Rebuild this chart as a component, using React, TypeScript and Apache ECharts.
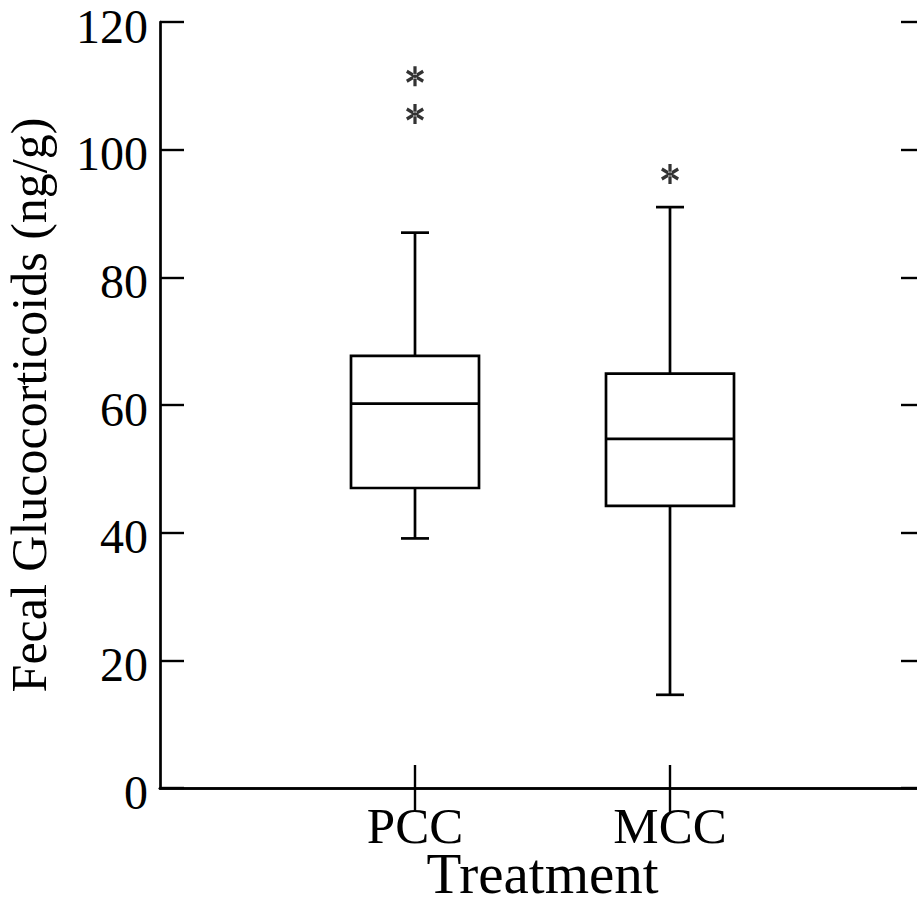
import React, { useEffect, useRef } from "react";
import * as echarts from "echarts";

const categories = ["", "PCC", "MCC", ""];
const boxIndex = [1, 2];
const boxMin = [39.1, 14.6];
const boxQ1 = [47.0, 44.2];
const boxMedian = [60.2, 54.7];
const boxQ3 = [67.7, 64.9];
const boxMax = [87.0, 91.0];
const outlierIndex = [1, 1, 2];
const outlierValues = [111.5, 105.6, 96.2];
const yMin = 0;
const yMax = 120;
const yInterval = 20;

const FONT = '"Liberation Serif", "Times New Roman", serif';

const asterisk =
  "path://M8.3 0 L11.7 0 L11.7 20 L8.3 20 Z M0.49 6.47 L17.81 16.47 L19.51 13.53 L2.19 3.53 Z M2.19 16.47 L19.51 6.47 L17.81 3.53 L0.49 13.53 Z";

export default function App() {
  const ref = useRef<HTMLDivElement>(null);
  useEffect(() => {
    if (!ref.current) return;
    const chart = echarts.init(ref.current, null, { renderer: "svg" });
    const boxData = boxIndex.map((c, i) => [c, boxMin[i], boxQ1[i], boxMedian[i], boxQ3[i], boxMax[i]]);
    const outData = outlierIndex.map((c, i) => [c, outlierValues[i]]);
    const tickShow = (idx: number) => idx === 1 || idx === 2;
    const lw = 2.7;
    chart.setOption({
      animation: false,
      backgroundColor: "#fff",
      textStyle: { fontFamily: FONT, color: "#000" },
      grid: { left: 160, top: 22, width: 765, height: 766, containLabel: false, outerBoundsMode: "none" },
      xAxis: [
        {
          type: "category",
          data: categories,
          boundaryGap: false,
          position: "bottom",
          axisLine: { lineStyle: { color: "#000", width: lw } },
          axisTick: { show: true, inside: true, length: 23, interval: tickShow, lineStyle: { color: "#000", width: 2.4 } },
          axisLabel: { show: true, interval: tickShow, color: "#000", fontFamily: FONT, fontSize: 51, margin: 12 },
          splitLine: { show: false },
          name: "Treatment",
          nameLocation: "middle",
          nameGap: 63,
          nameMoveOverlap: false,
          nameTextStyle: { color: "#000", fontFamily: FONT, fontSize: 57, lineHeight: 44 },
        },
        {
          type: "category",
          data: categories,
          boundaryGap: false,
          position: "top",
          axisLine: { lineStyle: { color: "#000", width: lw } },
          axisTick: { show: true, inside: true, length: 24, interval: tickShow, lineStyle: { color: "#000", width: 2.4 } },
          axisLabel: { show: false },
          splitLine: { show: false },
        },
      ],
      yAxis: [
        {
          type: "value",
          min: yMin,
          max: yMax,
          interval: yInterval,
          position: "left",
          axisLine: { show: true, lineStyle: { color: "#000", width: lw } },
          axisTick: { show: true, inside: true, length: 24, lineStyle: { color: "#000", width: 2.4 } },
          axisLabel: {
            color: "#000",
            fontFamily: FONT,
            fontSize: 48,
            margin: 12,
            formatter: "{a|{value}}",
            rich: { a: { fontFamily: FONT, fontSize: 48, color: "#000", lineHeight: 30, padding: [8, 0, 0, 0] } },
          },
          splitLine: { show: false },
          name: "Fecal Glucocorticoids (ng/g)",
          nameLocation: "middle",
          nameRotate: 90,
          nameGap: 106,
          nameMoveOverlap: false,
          nameTextStyle: { color: "#000", fontFamily: FONT, fontSize: 50 },
        },
        {
          type: "value",
          min: yMin,
          max: yMax,
          interval: yInterval,
          position: "right",
          axisLine: { show: true, lineStyle: { color: "#000", width: lw } },
          axisTick: { show: true, inside: true, length: 24, lineStyle: { color: "#000", width: 2.4 } },
          axisLabel: { show: false },
          splitLine: { show: false },
        },
      ],
      series: [
        {
          type: "custom",
          xAxisIndex: 0,
          yAxisIndex: 0,
          data: boxData,
          encode: { x: 0, y: [1, 2, 3, 4, 5] },
          renderItem: (params: any, api: any) => {
            const x = api.value(0);
            const pMin = api.coord([x, api.value(1)]);
            const pQ1 = api.coord([x, api.value(2)]);
            const pMed = api.coord([x, api.value(3)]);
            const pQ3 = api.coord([x, api.value(4)]);
            const pMax = api.coord([x, api.value(5)]);
            const cx = pMed[0];
            const hb = 64;
            const hc = 14;
            const st = { stroke: "#000", lineWidth: lw, fill: "none" };
            return {
              type: "group",
              children: [
                { type: "rect", shape: { x: cx - hb, y: pQ3[1], width: hb * 2, height: pQ1[1] - pQ3[1] }, style: { ...st, fill: "transparent" } },
                { type: "line", shape: { x1: cx - hb, y1: pMed[1], x2: cx + hb, y2: pMed[1] }, style: st },
                { type: "line", shape: { x1: cx, y1: pQ3[1], x2: cx, y2: pMax[1] }, style: st },
                { type: "line", shape: { x1: cx, y1: pQ1[1], x2: cx, y2: pMin[1] }, style: st },
                { type: "line", shape: { x1: cx - hc, y1: pMax[1], x2: cx + hc, y2: pMax[1] }, style: st },
                { type: "line", shape: { x1: cx - hc, y1: pMin[1], x2: cx + hc, y2: pMin[1] }, style: st },
              ],
            };
          },
        },
        {
          type: "scatter",
          xAxisIndex: 0,
          yAxisIndex: 0,
          data: outData,
          symbol: asterisk,
          symbolSize: [18, 20],
          itemStyle: { color: "#000" },
        },
      ],
    });
    return () => chart.dispose();
  }, []);
  return (
    <div style={{ position: "absolute", left: 0, top: 0, width: 917, height: 909, overflow: "hidden" }}>
      <div ref={ref} style={{ width: 940, height: 909 }} />
    </div>
  );
}
